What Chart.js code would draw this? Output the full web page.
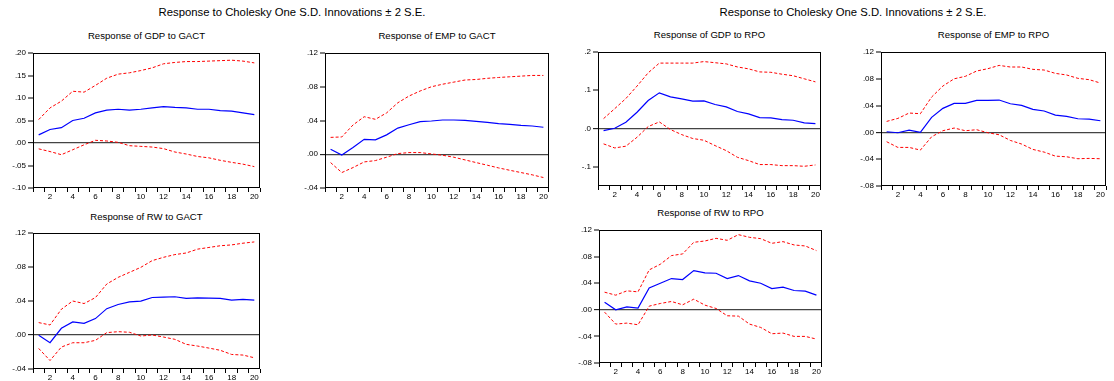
<!DOCTYPE html>
<html>
<head>
<meta charset="utf-8">
<script src="https://cdn.jsdelivr.net/npm/chart.js@4.4.1/dist/chart.umd.min.js"></script>
<style>
  html, body { margin: 0; padding: 0; background: #fff; }
  #wrap { position: relative; width: 1114px; height: 381px; overflow: hidden; background: #fff; }
  canvas { position: absolute; }
  .ttl { position: absolute; transform: translate(-50%, -50%); white-space: nowrap;
         font-family: "Liberation Sans", Arial, sans-serif; color: #000; line-height: 1; }
  .main { font-size: 11.3px; }
  .sub { font-size: 9.6px; }
</style>
</head>
<body>
<div id="wrap"></div>
<script>
// ---------------- DATA ----------------
const periods = [1,2,3,4,5,6,7,8,9,10,11,12,13,14,15,16,17,18,19,20];
const xTickLabels = ['', '2', '', '4', '', '6', '', '8', '', '10', '', '12', '', '14', '', '16', '', '18', '', '20'];

const mainTitle = 'Response to Cholesky One S.D. Innovations \u00b1 2 S.E.';

// Response of GDP to GACT
const gdpGactIrf = [0.018, 0.030, 0.034, 0.050, 0.055, 0.067, 0.073, 0.075, 0.073, 0.075, 0.078, 0.081, 0.079, 0.078, 0.075, 0.075, 0.072, 0.071, 0.067, 0.063];
const gdpGactHi  = [0.052, 0.078, 0.093, 0.115, 0.113, 0.128, 0.144, 0.153, 0.156, 0.161, 0.167, 0.176, 0.179, 0.181, 0.181, 0.182, 0.183, 0.184, 0.182, 0.178];
const gdpGactLo  = [-0.013, -0.019, -0.026, -0.015, -0.004, 0.006, 0.0045, 0.0015, -0.006, -0.0075, -0.009, -0.0125, -0.020, -0.0245, -0.030, -0.033, -0.0385, -0.043, -0.047, -0.0525];
const gdpGactTicks = [-0.10, -0.05, 0, 0.05, 0.10, 0.15, 0.20];

// Response of EMP to GACT
const empGactIrf = [0.006, -0.001, 0.008, 0.0177, 0.017, 0.023, 0.031, 0.035, 0.0386, 0.0394, 0.0406, 0.0406, 0.0402, 0.039, 0.0378, 0.0362, 0.0355, 0.0343, 0.0335, 0.032];
const empGactHi  = [0.020, 0.0205, 0.0347, 0.0445, 0.0414, 0.049, 0.061, 0.069, 0.075, 0.080, 0.083, 0.0855, 0.088, 0.0886, 0.090, 0.091, 0.0918, 0.0926, 0.0934, 0.0934];
const empGactLo  = [-0.0099, -0.0217, -0.0158, -0.0091, -0.0075, -0.0035, 0.0008, 0.002, 0.002, 0.0004, -0.0012, -0.0035, -0.0067, -0.0099, -0.013, -0.0162, -0.019, -0.0217, -0.0244, -0.0276];
const empGactTicks = [-0.04, 0, 0.04, 0.08, 0.12];

// Response of RW to GACT
const rwGactIrf = [-0.0004, -0.009, 0.0079, 0.0154, 0.0138, 0.0193, 0.031, 0.0359, 0.039, 0.0398, 0.0441, 0.0445, 0.045, 0.043, 0.0437, 0.0433, 0.043, 0.041, 0.0418, 0.041];
const rwGactHi  = [0.0146, 0.0118, 0.0303, 0.040, 0.037, 0.044, 0.060, 0.0678, 0.0737, 0.0796, 0.0875, 0.0914, 0.0946, 0.0965, 0.101, 0.103, 0.105, 0.106, 0.108, 0.1095];
const rwGactLo  = [-0.0158, -0.030, -0.0142, -0.0091, -0.0091, -0.0063, 0.0028, 0.0039, 0.0032, -0.0012, 0.0, -0.0024, -0.0051, -0.011, -0.013, -0.0154, -0.018, -0.0229, -0.0236, -0.0268];
const rwGactTicks = [-0.04, 0, 0.04, 0.08, 0.12];

// Response of GDP to RPO
const gdpRpoIrf = [-0.0052, 0.0009, 0.0166, 0.0427, 0.0733, 0.0933, 0.0828, 0.0776, 0.0715, 0.0724, 0.0628, 0.0567, 0.0445, 0.0384, 0.0288, 0.0279, 0.0235, 0.0218, 0.0148, 0.0131];
const gdpRpoHi  = [0.026, 0.052, 0.0785, 0.111, 0.1456, 0.171, 0.171, 0.171, 0.171, 0.175, 0.172, 0.169, 0.161, 0.156, 0.148, 0.147, 0.142, 0.138, 0.130, 0.122];
const gdpRpoLo  = [-0.040, -0.0506, -0.046, -0.0227, 0.0052, 0.0174, -0.0026, -0.0157, -0.026, -0.0305, -0.0445, -0.0576, -0.075, -0.0837, -0.094, -0.094, -0.0968, -0.0968, -0.0985, -0.095];
const gdpRpoTicks = [-0.1, 0, 0.1, 0.2];

// Response of EMP to RPO
const empRpoIrf = [0.001, -0.0005, 0.0035, 0.0, 0.0224, 0.0359, 0.0433, 0.0433, 0.0478, 0.0478, 0.0483, 0.0428, 0.0403, 0.0344, 0.0319, 0.0259, 0.0239, 0.0204, 0.0199, 0.0174];
const empRpoHi  = [0.0164, 0.0209, 0.0289, 0.0279, 0.0528, 0.0692, 0.080, 0.0837, 0.0916, 0.0951, 0.100, 0.0976, 0.0976, 0.0941, 0.0931, 0.0881, 0.0857, 0.0807, 0.0787, 0.0737];
const empRpoLo  = [-0.0139, -0.0224, -0.0224, -0.0264, -0.0065, 0.0025, 0.0065, 0.0025, 0.004, -0.0005, -0.0035, -0.012, -0.0174, -0.0254, -0.0294, -0.0354, -0.0364, -0.0393, -0.0388, -0.0393];
const empRpoTicks = [-0.08, -0.04, 0, 0.04, 0.08, 0.12];

// Response of RW to RPO
const rwRpoIrf = [0.0115, 0.0, 0.0045, 0.0025, 0.033, 0.040, 0.047, 0.0455, 0.059, 0.0555, 0.055, 0.047, 0.0515, 0.0435, 0.040, 0.032, 0.034, 0.029, 0.028, 0.022];
const rwRpoHi  = [0.0265, 0.022, 0.0285, 0.027, 0.060, 0.0685, 0.0815, 0.084, 0.1015, 0.1035, 0.1075, 0.1045, 0.113, 0.109, 0.107, 0.100, 0.1025, 0.0975, 0.096, 0.089];
const rwRpoLo  = [-0.0035, -0.0215, -0.020, -0.0225, 0.0055, 0.0095, 0.0125, 0.0075, 0.016, 0.007, 0.002, -0.009, -0.0095, -0.0215, -0.0265, -0.036, -0.035, -0.040, -0.040, -0.044];
const rwRpoTicks = [-0.08, -0.04, 0, 0.04, 0.08, 0.12];

// ---------------- LAYOUT ----------------
const FONT = '"Liberation Sans", Arial, sans-serif';
const AXW = 40, PADT = 8, PADR = 2, AXH = 16;

const panels = [
  { title: 'Response of GDP to GACT', irf: gdpGactIrf, hi: gdpGactHi, lo: gdpGactLo, ticks: gdpGactTicks, min: -0.10, max: 0.20, dec: 2,
    L: 33, R: 260, T: 53, B: 188, ty: 36 },
  { title: 'Response of EMP to GACT', irf: empGactIrf, hi: empGactHi, lo: empGactLo, ticks: empGactTicks, min: -0.04, max: 0.12, dec: 2,
    L: 325, R: 549, T: 53, B: 188, ty: 36 },
  { title: 'Response of RW to GACT', irf: rwGactIrf, hi: rwGactHi, lo: rwGactLo, ticks: rwGactTicks, min: -0.04, max: 0.12, dec: 2,
    L: 33, R: 260, T: 233, B: 369, ty: 217 },
  { title: 'Response of GDP to RPO', irf: gdpRpoIrf, hi: gdpRpoHi, lo: gdpRpoLo, ticks: gdpRpoTicks, min: -0.15, max: 0.20, dec: 1,
    L: 598, R: 821, T: 52, B: 186, ty: 35 },
  { title: 'Response of EMP to RPO', irf: empRpoIrf, hi: empRpoHi, lo: empRpoLo, ticks: empRpoTicks, min: -0.08, max: 0.12, dec: 2,
    L: 881, R: 1106, T: 52, B: 186, ty: 35 },
  { title: 'Response of RW to RPO', irf: rwRpoIrf, hi: rwRpoHi, lo: rwRpoLo, ticks: rwRpoTicks, min: -0.08, max: 0.12, dec: 2,
    L: 599, R: 822, T: 230, B: 363, ty: 213 }
];

const wrap = document.getElementById('wrap');

function addText(txt, cls, x, y) {
  const d = document.createElement('div');
  d.className = 'ttl ' + cls;
  d.textContent = txt;
  d.style.left = x + 'px';
  d.style.top = y + 'px';
  wrap.appendChild(d);
}

addText(mainTitle, 'main', 292, 13);
addText(mainTitle, 'main', 853, 13);

function fmt(v, dec) {
  let s = Math.abs(v).toFixed(dec);
  if (s.startsWith('0')) s = s.slice(1);
  return (v < -1e-12 ? '-' : '') + s;
}

const framePlugin = {
  id: 'frame',
  afterDraw(chart) {
    const a = chart.chartArea, c = chart.ctx;
    c.save();
    c.strokeStyle = '#000';
    c.lineWidth = 1;
    c.strokeRect(a.left + 0.5, a.top + 0.5, a.right - a.left - 1, a.bottom - a.top - 1);
    c.restore();
  }
};

panels.forEach(p => {
  const cv = document.createElement('canvas');
  const w = (p.R - p.L) + AXW + PADR;
  const h = (p.B - p.T) + PADT + AXH;
  cv.width = w; cv.height = h;
  cv.style.width = w + 'px'; cv.style.height = h + 'px';
  cv.style.left = (p.L - AXW) + 'px';
  cv.style.top = (p.T - PADT) + 'px';
  wrap.appendChild(cv);
  addText(p.title, 'sub', (p.L + p.R) / 2, p.ty);

  new Chart(cv, {
    type: 'line',
    data: {
      labels: periods.map(String),
      datasets: [
        { data: p.hi, borderColor: '#ff0000', borderWidth: 1, borderDash: [3, 2], pointRadius: 0, tension: 0, fill: false },
        { data: p.lo, borderColor: '#ff0000', borderWidth: 1, borderDash: [3, 2], pointRadius: 0, tension: 0, fill: false },
        { data: p.irf, borderColor: '#0000ff', borderWidth: 1.2, pointRadius: 0, tension: 0, fill: false }
      ]
    },
    options: {
      responsive: false,
      maintainAspectRatio: false,
      animation: false,
      devicePixelRatio: 1,
      layout: { padding: { top: PADT, right: PADR, left: 0, bottom: 0 } },
      plugins: { legend: { display: false }, tooltip: { enabled: false }, title: { display: false } },
      scales: {
        x: {
          type: 'category',
          offset: true,
          border: { display: false },
          grid: { offset: true, drawOnChartArea: false, drawTicks: true, tickLength: 4, tickColor: '#000', tickWidth: 1 },
          ticks: { autoSkip: false, maxRotation: 0, minRotation: 0, padding: 0, color: '#000',
                   font: { size: 8, family: FONT },
                   callback: (v, i) => xTickLabels[i] },
          afterFit: s => { s.height = AXH; }
        },
        y: {
          type: 'linear',
          min: p.min, max: p.max,
          border: { display: false },
          afterBuildTicks: s => { s.ticks = p.ticks.map(v => ({ value: v })); },
          grid: {
            drawOnChartArea: true, drawTicks: true, tickLength: 5, tickColor: '#000', tickWidth: 1,
            color: ctx => (ctx.tick && Math.abs(ctx.tick.value) < 1e-12) ? '#444' : 'rgba(0,0,0,0)',
            lineWidth: ctx => (ctx.tick && Math.abs(ctx.tick.value) < 1e-12) ? 1.3 : 0
          },
          ticks: { padding: 2, color: '#000', font: { size: 8, family: FONT },
                   callback: v => fmt(v, p.dec) },
          afterFit: s => { s.width = AXW; }
        }
      }
    },
    plugins: [framePlugin]
  });
});
</script>
</body>
</html>
